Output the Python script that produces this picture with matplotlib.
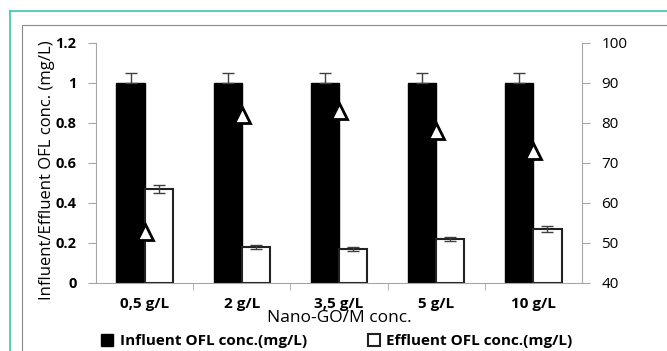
import numpy as np
import matplotlib.pyplot as plt
from matplotlib.patches import Rectangle
from matplotlib.lines import Line2D

# data
categories = ["0,5 g/L", "2 g/L", "3,5 g/L", "5 g/L", "10 g/L"]
influent = [1.0, 1.0, 1.0, 1.0, 1.0]
influent_err = [0.05, 0.05, 0.05, 0.05, 0.05]
effluent = [0.47, 0.18, 0.17, 0.22, 0.27]
effluent_err = [0.02, 0.008, 0.008, 0.01, 0.013]
removal = [52.8, 81.9, 82.9, 77.9, 72.9]

plt.rcParams['font.family'] = ['Open Sans', 'DejaVu Sans']

fig = plt.figure(figsize=(6.67, 3.51), dpi=100)

# frames around the chart
fig.add_artist(Line2D([10 / 667, 1], [1 - 11 / 351] * 2, color="#3cc6a8", lw=1.2))
fig.add_artist(Line2D([10 / 667] * 2, [0, 1 - 11 / 351], color="#3cc6a8", lw=1.2))
fig.add_artist(Rectangle((22 / 667, -0.1), 1.0, 1 - 25 / 351 + 0.1,
                         fill=False, ec="#8a8a8a", lw=0.8))

ax = fig.add_axes([96 / 667, 1 - 283 / 351, (582 - 96) / 667, (283 - 43) / 351])
x = np.arange(len(categories))
w = 0.29
grey = "#a6a6a6"
ekw = dict(ecolor="#404040", elinewidth=1, capsize=4, capthick=1)

# influent error bars only go up (lower half hidden in the black bar)
ax.bar(x - w / 2, influent, w, color="black", edgecolor="black", linewidth=1,
       yerr=[np.zeros(len(influent)), influent_err], error_kw=ekw,
       label="Influent OFL conc.(mg/L)", zorder=2)
ax.bar(x + w / 2, effluent, w, color="white", edgecolor="#222222", linewidth=1.5,
       yerr=effluent_err, error_kw=ekw,
       label="Effluent OFL conc.(mg/L)", zorder=2)

ax.set_xlim(-0.5, len(categories) - 0.5)
ax.set_ylim(0, 1.2)
ax.set_yticks([0, 0.2, 0.4, 0.6, 0.8, 1.0, 1.2])
ax.set_yticklabels(["0", "0.2", "0.4", "0.6", "0.8", "1", "1.2"], fontsize=10.5, fontweight="bold")
ax.set_xticks(x)
ax.set_xticklabels(categories, fontsize=11, fontweight="bold")
ax.set_xticks(np.arange(0.5, len(categories) - 0.5, 1), minor=True)
ax.tick_params(axis="x", which="major", length=0, pad=10)
ax.tick_params(axis="x", which="minor", length=5, color=grey, direction="out")
ax.tick_params(axis="y", length=6, color=grey, pad=8)
for s in ["top", "right"]:
    ax.spines[s].set_visible(False)
ax.spines["left"].set_color(grey)
ax.spines["bottom"].set_color(grey)
ax.set_xlabel("Nano-GO/M conc.", fontsize=12.5, labelpad=-1)
ax.set_ylabel("Influent/Effluent OFL conc. (mg/L)", fontsize=12)
ax.yaxis.set_label_coords(-0.085, 0.47)

ax2 = ax.twinx()
ax2.plot(x, removal, linestyle="none", marker="^", markersize=11,
         markerfacecolor="white", markeredgecolor="black", markeredgewidth=2, zorder=3)
ax2.set_ylim(40, 100)
ax2.set_yticks(range(40, 101, 10))
ax2.tick_params(axis="y", length=6, color=grey, labelsize=11, pad=8)
for s in ["top", "left", "bottom"]:
    ax2.spines[s].set_visible(False)
ax2.spines["right"].set_color(grey)

handles, labels = ax.get_legend_handles_labels()
fig.legend(handles, labels, loc="center", ncol=2,
           bbox_to_anchor=(0.505, 1 - 341 / 351), frameon=False,
           prop=dict(size=11, weight="bold"), columnspacing=4,
           handlelength=0.8, handleheight=0.8, handletextpad=0.4,
           borderpad=0.1)

fig.savefig("out.png", dpi=100)
